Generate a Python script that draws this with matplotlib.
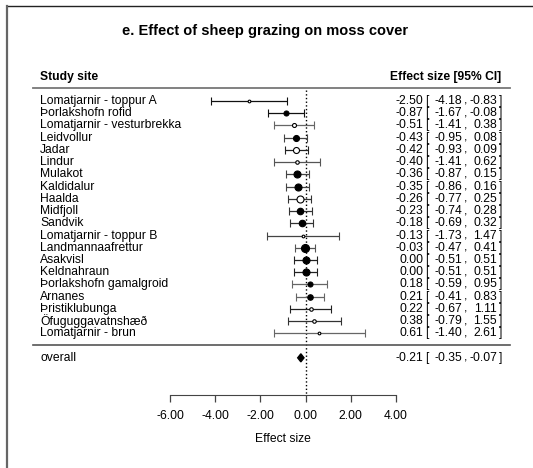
import matplotlib
matplotlib.use("Agg")
import matplotlib.pyplot as plt
from matplotlib.lines import Line2D
from matplotlib.transforms import blended_transform_factory

plt.rcParams['font.family'] = ['Liberation Sans', 'DejaVu Sans']

# data
sites = ["Lomatjarnir - toppur A", "Þorlakshofn rofid", "Lomatjarnir - vesturbrekka",
         "Leidvollur", "Jadar", "Lindur", "Mulakot", "Kaldidalur", "Haalda", "Midfjoll",
         "Sandvik", "Lomatjarnir - toppur B", "Landmannaafrettur", "Asakvisl", "Keldnahraun",
         "Þorlakshofn gamalgroid", "Arnanes", "Þristiklubunga", "Öfuguggavatnshæð",
         "Lomatjarnir - brun"]
est = [-2.50, -0.87, -0.51, -0.43, -0.42, -0.40, -0.36, -0.35, -0.26, -0.23,
       -0.18, -0.13, -0.03, 0.00, 0.00, 0.18, 0.21, 0.22, 0.38, 0.61]
lower = [-4.18, -1.67, -1.41, -0.95, -0.93, -1.41, -0.87, -0.86, -0.77, -0.74,
         -0.69, -1.73, -0.47, -0.51, -0.51, -0.59, -0.41, -0.67, -0.79, -1.40]
upper = [-0.83, -0.08, 0.38, 0.08, 0.09, 0.62, 0.15, 0.16, 0.25, 0.28,
         0.32, 1.47, 0.41, 0.51, 0.51, 0.95, 0.83, 1.11, 1.55, 2.61]
overall = [-0.21, -0.35, -0.07]
ticks = [-6, -4, -2, 0, 2, 4]

# styles
filled = [False, True, False, True, False, False, True, True, False, True,
          True, False, True, True, True, True, True, False, False, False]
point_px = [2.7, 5, 4, 6, 6, 3.5, 7, 7, 7, 6.5,
            6.5, 2.7, 8, 7, 7, 5, 5.5, 3.5, 3.5, 2.7]
bar_col = ['#111', '#111', '#666', '#444', '#222', '#555', '#444', '#444', '#333', '#333',
           '#333', '#444', '#555', '#222', '#222', '#666', '#666', '#222', '#333', '#666']

W, H = 533, 468
fig = plt.figure(figsize=(W / 100, H / 100), dpi=100)
ax = fig.add_axes([0, 0, 1, 1])
x0, scale = 305.6, 22.6
ax.set_xlim(-x0 / scale, (W - x0) / scale)
row0, rowh = 101, 12.23
ax.set_ylim((H - row0) / rowh, -row0 / rowh)

fs = 8.7
for k in range(len(sites)):
    ax.errorbar(est[k], k, xerr=[[est[k] - lower[k]], [upper[k] - est[k]]],
                fmt='o', ms=point_px[k] / 1.389,
                mfc='black' if filled[k] else 'white', mec='black', mew=0.8,
                ecolor=bar_col[k], elinewidth=0.9, capsize=2.6, capthick=0.9, zorder=3)

n = len(sites)
ov_y = n + 1
ax.fill([overall[1], overall[0], overall[2], overall[0]],
        [ov_y, ov_y - 0.33, ov_y, ov_y + 0.33], color='black', zorder=3)

ax.vlines(0, -0.9, 24, colors='black', linestyles=':', lw=1, zorder=2)

# bottom axis
for s in ['top', 'left', 'right']:
    ax.spines[s].set_visible(False)
ax.spines['bottom'].set_position(('data', 24))
ax.spines['bottom'].set_bounds(-6, 4)
ax.spines['bottom'].set_color('#444')
ax.set_xticks(ticks)
ax.set_xticklabels(["%.2f" % t for t in ticks], fontsize=fs)
ax.tick_params(axis='x', direction='out', length=5, width=0.9, color='#444', pad=6.5)
ax.set_yticks([])
ax.text((ticks[0] + ticks[-1]) / 2, 27.6, "Effect size", fontsize=fs, ha='center', va='center')

tr = blended_transform_factory(fig.transFigure, ax.transData)
for k in range(n):
    ax.text(40 / W, k, sites[k], transform=tr, fontsize=fs, va='center', ha='left')
    ax.text(423 / W, k, "%.2f" % est[k], transform=tr, fontsize=fs, va='center', ha='right')
    ax.text(425 / W, k, "[", transform=tr, fontsize=fs, va='center', ha='left')
    ax.text(462 / W, k, "%.2f" % lower[k], transform=tr, fontsize=fs, va='center', ha='right')
    ax.text(466 / W, k, ",", transform=tr, fontsize=fs, va='center', ha='center')
    ax.text(497 / W, k, "%.2f" % upper[k], transform=tr, fontsize=fs, va='center', ha='right')
    ax.text(499 / W, k, "]", transform=tr, fontsize=fs, va='center', ha='left')

ax.text(40 / W, ov_y, "overall", transform=tr, fontsize=fs, va='center', ha='left')
ax.text(423 / W, ov_y, "%.2f" % overall[0], transform=tr, fontsize=fs, va='center', ha='right')
ax.text(425 / W, ov_y, "[", transform=tr, fontsize=fs, va='center', ha='left')
ax.text(462 / W, ov_y, "%.2f" % overall[1], transform=tr, fontsize=fs, va='center', ha='right')
ax.text(466 / W, ov_y, ",", transform=tr, fontsize=fs, va='center', ha='center')
ax.text(497 / W, ov_y, "%.2f" % overall[2], transform=tr, fontsize=fs, va='center', ha='right')
ax.text(499 / W, ov_y, "]", transform=tr, fontsize=fs, va='center', ha='left')

# headers and separators
ax.text(40 / W, -2, "Study site", transform=tr, fontsize=fs, fontweight='bold', va='center')
ax.text(501 / W, -2, "Effect size [95% CI]", transform=tr, fontsize=fs,
        fontweight='bold', va='center', ha='right')
ax.plot([33 / W, 510 / W], [-1.1, -1.1], transform=tr, color='#777', lw=1.3)
ax.plot([33 / W, 510 / W], [19.98, 19.98], transform=tr, color='#555', lw=1.2)

fig.text(265.5 / W, 1 - 31 / H, "e. Effect of sheep grazing on moss cover",
         fontsize=10.5, fontweight='bold', ha='center', va='center')

# frame pieces from the screenshot
fig.add_artist(Line2D([7 / W, 1], [1 - 6 / H, 1 - 6 / H], color='#222', lw=1))
fig.add_artist(Line2D([7 / W, 7 / W], [0, 1 - 6 / H], color='#666', lw=1.6))

fig.savefig("out.png", dpi=100)
